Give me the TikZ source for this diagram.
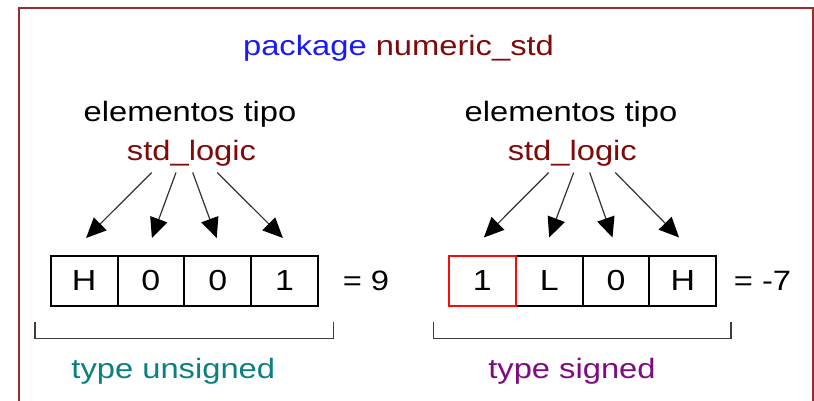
\documentclass[tikz,border=0pt]{standalone}
\usepackage{fontspec}
\setmainfont{Liberation Sans}[FakeStretch=1.168]
\usetikzlibrary{arrows.meta}
\definecolor{framec}{RGB}{155,45,45}
\definecolor{pkgblue}{RGB}{25,25,250}
\definecolor{dred}{RGB}{128,10,10}
\definecolor{tealc}{RGB}{10,128,128}
\definecolor{purplec}{RGB}{128,10,128}
\definecolor{arrowc}{RGB}{50,50,50}
\definecolor{bracketc}{RGB}{60,60,60}
\definecolor{redc}{RGB}{250,10,10}
\tikzset{
  lbl/.style={font=\fontsize{28}{33}\selectfont, inner sep=0pt, anchor=base},
  cell/.style={draw=black, line width=2pt, minimum width=66.8pt, minimum height=50pt,
    inner sep=0pt, font=\fontsize{29}{33}\selectfont},
  redcell/.style={cell, draw=redc},
  ptr/.style={draw=arrowc, line width=1.2pt, arrows={-Triangle[length=20pt,width=18pt,black]}},
  brk/.style={draw=bracketc, line width=1.5pt},
  eqlbl/.style={font=\fontsize{28}{33}\selectfont, inner sep=0pt}
}
\begin{document}
\begin{tikzpicture}[x=1pt,y=-1pt]
\useasboundingbox (0,0) rectangle (814,400);
\fill[white] (0,0) rectangle (814,400);
\draw[framec, line width=2pt] (19,8) rectangle (812.5,430);

\node[lbl] (pkg) at (398.5,55.5) {\textcolor{pkgblue}{package} \textcolor{dred}{numeric\_std}};

% left group
\node[lbl] (elemL) at (190,121) {elementos tipo};
\node[lbl, text=dred] (stdL) at (191.5,160) {std\_logic};
\node[cell] (l1) at (84.1,281) {H};
\node[cell] (l2) at (150.9,281) {0};
\node[cell] (l3) at (217.7,281) {0};
\node[cell] (l4) at (284.5,281) {1};
\node[eqlbl] (eqL) at (366,281) {= 9};
\coordinate (sl1) at (151.7,172.5);
\coordinate (sl2) at (176,172.5);
\coordinate (sl3) at (192.7,172.5);
\coordinate (sl4) at (217.3,172.5);
\draw[ptr] (sl1) -- ([xshift=2pt,yshift=17pt]l1.north);
\draw[ptr] (sl2) -- ([xshift=1pt,yshift=17pt]l2.north);
\draw[ptr] (sl3) -- ([xshift=-1pt,yshift=17pt]l3.north);
\draw[ptr] (sl4) -- ([xshift=-1.6pt,yshift=17pt]l4.north);
\draw[brk] (35,321.7) -- (35,338.3) -- (333.3,338.3) -- (333.3,321.7);
\node[lbl, text=tealc] (typeU) at (173.3,378) {type unsigned};

% right group
\node[lbl] (elemR) at (571,121) {elementos tipo};
\node[lbl, text=dred] (stdR) at (572.3,160) {std\_logic};
\node[cell] (r2) at (549.2,280.5) {L};
\node[cell] (r3) at (616,280.5) {0};
\node[cell] (r4) at (682.8,280.5) {H};
\node[redcell] (r1) at (482.4,280.5) {1};
\node[eqlbl] (eqR) at (762.5,280.5) {= -7};
\coordinate (sr1) at (548.7,172.5);
\coordinate (sr2) at (573.7,172.5);
\coordinate (sr3) at (589.7,172.5);
\coordinate (sr4) at (615.3,172.5);
\draw[ptr] (sr1) -- ([xshift=1.5pt,yshift=17pt]r1.north);
\draw[ptr] (sr2) -- ([xshift=0pt,yshift=17pt]r2.north);
\draw[ptr] (sr3) -- ([xshift=-3.5pt,yshift=17pt]r3.north);
\draw[ptr] (sr4) -- ([xshift=-3.7pt,yshift=17pt]r4.north);
\draw[brk] (433.7,321.7) -- (433.7,338.3) -- (731,338.3) -- (731,321.7);
\node[lbl, text=purplec] (typeS) at (572,378) {type signed};
\end{tikzpicture}
\end{document}
